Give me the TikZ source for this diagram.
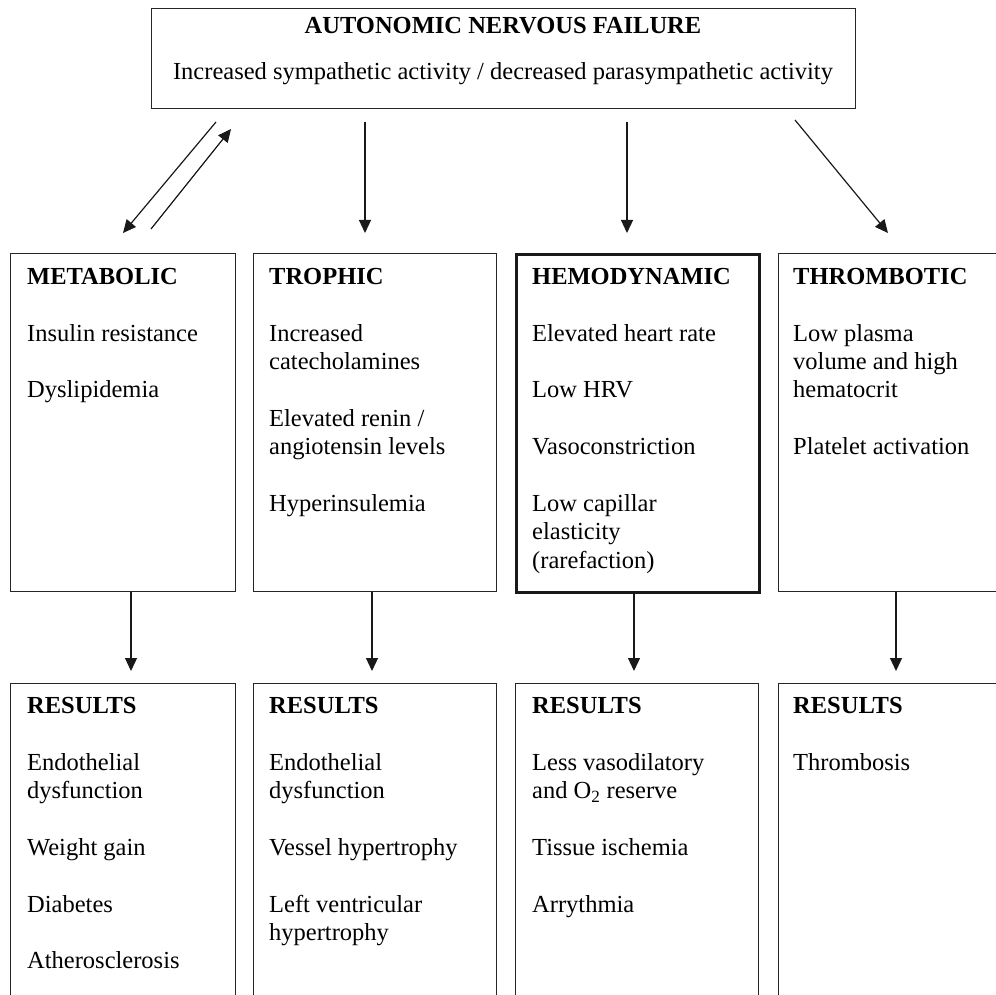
\documentclass[tikz,border=0pt]{standalone}
\usepackage{fontspec}
\setmainfont{Liberation Serif}
\usetikzlibrary{arrows.meta}
\newcommand{\firstl}{\rule{0pt}{20pt}}
\begin{document}
\begin{tikzpicture}[x=1pt,y=-1pt,
  box/.style={draw=black!85, line width=1.3pt, rectangle, anchor=north west, inner sep=0pt},
  boldbox/.style={box, line width=3pt, draw=black!90},
  txt/.style={anchor=north west, align=left, inner sep=0pt, font=\fontsize{24.5}{28.4}\selectfont},
  ctxt/.style={anchor=base, inner sep=0pt, font=\fontsize{24.5}{28.4}\selectfont},
  conn/.style={draw=black!90, line width=1.2pt, -{Triangle[length=13pt,width=12pt]}},
]
\useasboundingbox (0,0) rectangle (996,995);
\clip (0,0) rectangle (996,995);

% top box
\node[box, minimum width=704pt, minimum height=100pt] (top) at (151,8) {};
\node[ctxt, font=\fontsize{24.5}{28.4}\selectfont\bfseries] (topH) at (503,34) {AUTONOMIC NERVOUS FAILURE};
\node[ctxt] (topT) at (503,80) {Increased sympathetic activity / decreased parasympathetic activity};

% first row boxes
\node[box, minimum width=225pt, minimum height=338pt] (meta) at (10,253) {};
\node[box, minimum width=243pt, minimum height=338pt] (troph) at (253,253) {};
\node[boldbox, minimum width=243pt, minimum height=338pt] (hemo) at (515,253) {};
\node[box, minimum width=260pt, minimum height=338pt] (thromb) at (778,253) {};

\node[txt] (metaT) at (27,264) {\firstl\textbf{METABOLIC}\\[28.4pt]Insulin resistance\\[28.4pt]Dyslipidemia};
\node[txt] (trophT) at (269,264) {\firstl\textbf{TROPHIC}\\[28.4pt]Increased\\catecholamines\\[28.4pt]Elevated renin /\\angiotensin levels\\[28.4pt]Hyperinsulemia};
\node[txt] (hemoT) at (532,264) {\firstl\textbf{HEMODYNAMIC}\\[28.4pt]Elevated heart rate\\[28.4pt]Low HRV\\[28.4pt]Vasoconstriction\\[28.4pt]Low capillar\\elasticity\\(rarefaction)};
\node[txt] (thrombT) at (793,264) {\firstl\textbf{THROMBOTIC}\\[28.4pt]Low plasma\\volume and high\\hematocrit\\[28.4pt]Platelet activation};

% results boxes
\node[box, minimum width=225pt, minimum height=400pt] (metaR) at (10,683) {};
\node[box, minimum width=243pt, minimum height=400pt] (trophR) at (253,683) {};
\node[box, minimum width=243pt, minimum height=400pt] (hemoR) at (515,683) {};
\node[box, minimum width=260pt, minimum height=400pt] (thrombR) at (778,683) {};

\node[txt] (metaRT) at (27,693) {\firstl\textbf{RESULTS}\\[28.4pt]Endothelial\\dysfunction\\[28.4pt]Weight gain\\[28.4pt]Diabetes\\[28.4pt]Atherosclerosis};
\node[txt] (trophRT) at (269,693) {\firstl\textbf{RESULTS}\\[28.4pt]Endothelial\\dysfunction\\[28.4pt]Vessel hypertrophy\\[28.4pt]Left ventricular\\hypertrophy};
\node[txt] (hemoRT) at (532,693) {\firstl\textbf{RESULTS}\\[28.4pt]Less vasodilatory\\and O\textsubscript{2} reserve\\[28.4pt]Tissue ischemia\\[28.4pt]Arrythmia};
\node[txt] (thrombRT) at (793,693) {\firstl\textbf{RESULTS}\\[28.4pt]Thrombosis};

% connector end points
\coordinate (a1s) at (216,122);
\coordinate (a1e) at (123,233);
\coordinate (a2s) at (151,229);
\coordinate (a2e) at (231,129);
\coordinate (a3s) at (365,122);
\coordinate (a3e) at (365,233);
\coordinate (a4s) at (627,122);
\coordinate (a4e) at (627,233);
\coordinate (a5s) at (795,120);
\coordinate (a5e) at (888,233);

\draw[conn] (a1s) -- (a1e);
\draw[conn] (a2s) -- (a2e);
\draw[conn] (a3s) -- (a3e);
\draw[conn] (a4s) -- (a4e);
\draw[conn] (a5s) -- (a5e);

\coordinate (b1e) at (131,671);
\coordinate (b2e) at (372,671);
\coordinate (b3e) at (634,671);
\coordinate (b4e) at (896,671);
\draw[conn] (meta.south -| b1e) -- (b1e);
\draw[conn] (troph.south -| b2e) -- (b2e);
\draw[conn] (hemo.south -| b3e) -- (b3e);
\draw[conn] (thromb.south -| b4e) -- (b4e);
\end{tikzpicture}
\end{document}
